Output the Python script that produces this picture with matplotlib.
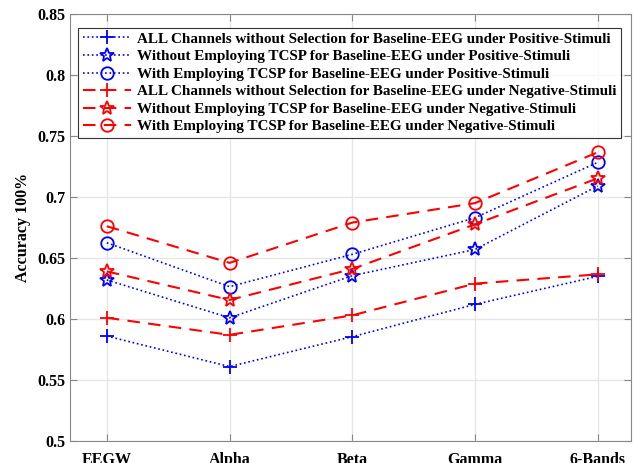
import matplotlib.pyplot as plt
import numpy as np

plt.rcParams['font.family'] = ['Liberation Serif', 'DejaVu Serif']
plt.rcParams['font.weight'] = 'bold'

# Частотні діапазони
bands = ['EEGW', 'Alpha', 'Beta', 'Gamma', '6-Bands']

# Позитивні стимули
pos_all = [0.586, 0.561, 0.5855, 0.612, 0.635]
pos_without = [0.632, 0.601, 0.6355, 0.657, 0.709]
pos_with = [0.6625, 0.6265, 0.653, 0.683, 0.7284]

# Негативні стимули
neg_all = [0.601, 0.587, 0.603, 0.629, 0.6366]
neg_without = [0.639, 0.6156, 0.641, 0.6776, 0.7153]
neg_with = [0.676, 0.646, 0.679, 0.695, 0.7366]

labels = [
    'ALL Channels without Selection for Baseline-EEG under Positive-Stimuli',
    'Without Employing TCSP for Baseline-EEG under Positive-Stimuli',
    'With Employing TCSP for Baseline-EEG under Positive-Stimuli',
    'ALL Channels without Selection for Baseline-EEG under Negative-Stimuli',
    'Without Employing TCSP for Baseline-EEG under Negative-Stimuli',
    'With Employing TCSP for Baseline-EEG under Negative-Stimuli',
]

x = np.arange(1, len(bands) + 1)

fig = plt.figure(figsize=(6.33, 4.63), dpi=100)
ax = fig.add_axes([0.1106, 0.0475, 0.886, 0.9223])

series = [pos_all, pos_without, pos_with, neg_all, neg_without, neg_with]
markers = ['+', '*', 'o', '+', '*', 'o']
sizes = [10, 10.5, 9, 10, 10.5, 9]
for i, (y, m, ms, lab) in enumerate(zip(series, markers, sizes, labels)):
    if i < 3:
        ax.plot(x, y, linestyle=':', color='blue', linewidth=1.2, marker=m,
                markersize=ms, markerfacecolor='none', markeredgecolor='blue',
                markeredgewidth=1.3, label=lab)
    else:
        ax.plot(x, y, linestyle=(0, (6, 4)), color='red', linewidth=1.5, marker=m,
                markersize=ms, markerfacecolor='none', markeredgecolor='red',
                markeredgewidth=1.3, label=lab)

ax.set_xlim(0.7, 5.27)
ax.set_ylim(0.5, 0.85)
ax.set_xticks(x)
ax.set_xticklabels(bands)
ax.set_yticks(np.arange(0.5, 0.851, 0.05))
ax.set_yticklabels(['0.5', '0.55', '0.6', '0.65', '0.7', '0.75', '0.8', '0.85'])
ax.tick_params(direction='in', top=True, right=True, labelsize=11.5,
               color='#888888', length=5)
ax.tick_params(axis='x', pad=8)
for s in ax.spines.values():
    s.set_color('#888888')
ax.grid(True, color='#e6e6e6', linewidth=1)
ax.set_ylabel('Accuracy 100%', fontsize=11.5, fontweight='bold')

leg = ax.legend(loc='upper left', bbox_to_anchor=(0.0145, 0.968),
                handlelength=3.2, handletextpad=0.4, labelspacing=0.26,
                borderaxespad=0, borderpad=0.3,
                frameon=True, fancybox=False, edgecolor='black',
                prop={'weight': 'bold', 'size': 10.9})
leg.get_frame().set_linewidth(0.8)

plt.savefig('out.png', dpi=100)
